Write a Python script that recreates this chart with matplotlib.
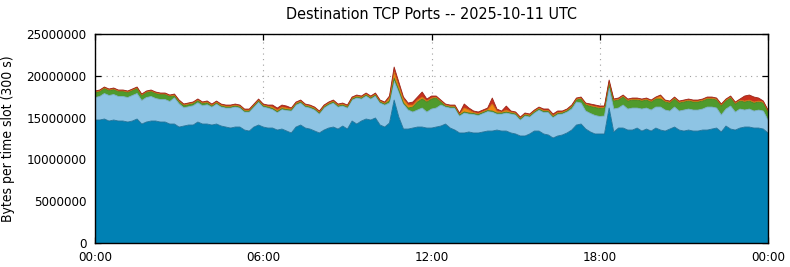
import numpy as np
import matplotlib
matplotlib.use("Agg")
import matplotlib.pyplot as plt

plt.rcParams['font.family'] = ['DejaVu Sans']
plt.rcParams['font.stretch'] = 'condensed'

# 10-minute samples, values in millions of bytes per 300 s slot
hours = np.arange(145) / 6.0

other_a = [14.71, 14.71, 14.83, 14.59, 14.71, 14.59, 14.59, 14.47, 14.59, 14.83,
           14.23, 14.47, 14.59, 14.59, 14.47, 14.47, 14.23, 14.23, 13.87, 13.99,
           14.11, 14.11, 14.47, 14.23, 14.23, 14.11, 14.23, 13.99, 13.87, 13.75,
           13.87, 13.87, 13.51, 13.39, 13.87, 14.11, 13.87, 13.75, 13.75, 13.51,
           13.63, 13.39, 13.16, 13.87, 14.11, 13.75, 13.63, 13.39, 13.16, 13.51,
           13.75, 13.87, 13.63, 13.99, 13.63, 14.59, 14.23, 14.59, 14.83, 14.71,
           14.95, 14.11, 13.87, 14.35, 17.10, 15.07, 13.63, 13.63, 13.75, 13.87,
           13.87, 13.75, 13.75, 13.87, 13.99, 14.23, 13.75, 13.51, 13.16, 13.16,
           13.28, 13.16, 13.16, 13.28, 13.39, 13.39, 13.51, 13.39, 13.39, 13.16,
           13.04, 12.80, 12.80, 13.04, 13.39, 13.39, 13.04, 12.92, 12.56, 12.80,
           12.92, 13.16, 13.51, 14.11, 14.23, 13.63, 13.28, 13.04, 13.04, 13.04,
           16.15, 13.28, 13.75, 13.75, 13.51, 13.51, 13.75, 13.39, 13.63, 13.39,
           13.75, 13.51, 13.39, 13.63, 13.87, 13.51, 13.39, 13.51, 13.39, 13.39,
           13.51, 13.51, 13.63, 13.75, 13.28, 13.99, 13.63, 13.51, 13.75, 13.87,
           13.87, 13.75, 13.75, 13.63, 13.16]

other_b = [2.69, 2.81, 3.05, 3.05, 3.05, 2.93, 2.93, 2.93, 3.05, 3.05,
           2.81, 2.93, 2.93, 2.69, 2.69, 2.69, 2.69, 3.13, 2.77, 2.18,
           2.18, 2.30, 2.30, 2.18, 2.30, 2.15, 2.39, 2.27, 2.27, 2.39,
           2.39, 2.27, 2.15, 2.27, 2.39, 2.75, 2.39, 2.39, 2.21, 2.09,
           2.33, 2.45, 2.63, 2.63, 2.63, 2.51, 2.51, 2.51, 2.27, 2.63,
           2.75, 2.87, 2.63, 2.39, 2.51, 2.51, 3.11, 2.63, 2.75, 2.51,
           2.63, 2.63, 2.63, 2.39, 2.27, 2.99, 2.99, 2.27, 1.91, 2.03,
           2.27, 1.91, 2.27, 2.27, 2.51, 2.03, 2.39, 2.63, 2.03, 2.39,
           2.15, 2.21, 2.09, 2.21, 2.33, 2.27, 1.91, 2.03, 2.15, 2.27,
           2.27, 1.91, 2.39, 2.03, 2.15, 2.51, 2.57, 2.69, 2.45, 2.57,
           2.51, 2.51, 2.51, 2.75, 2.51, 2.15, 2.21, 2.21, 2.09, 2.15,
           2.39, 2.75, 2.39, 2.75, 2.51, 2.63, 2.39, 2.63, 2.51, 2.51,
           2.51, 2.75, 2.51, 2.15, 2.39, 2.27, 2.51, 2.51, 2.51, 2.51,
           2.51, 2.75, 2.63, 2.39, 2.03, 2.03, 2.75, 2.15, 2.27, 2.03,
           2.15, 2.03, 2.15, 2.15, 1.55]

port_g = ([0.60] * 17 + [0.24] * 8 + [0.12] * 38 +
          [0.24, 0.36, 0.24, 0.12, 0.24, 0.60, 0.96, 1.08, 1.20, 1.20, 1.20, 0.36] +
          [0.12] * 27 +
          [0.24, 0.24, 0.48, 0.72, 0.84, 0.96, 0.96, 0.96, 0.48] +
          [0.96] * 23 + [1.08] + [0.96] * 10)

port_o = ([0.08] * 17 + [0.12] * 21 + [0.18] * 4 + [0.12] * 21 +
          [0.36, 0.72, 0.48, 0.48, 0.36, 0.24, 0.24, 0.24, 0.12, 0.12, 0.12, 0.12] +
          [0.12] * 4 + [0.48, 0.36] + [0.12] * 4 + [0.84, 0.24, 0.12, 0.24] + [0.12] * 13 +
          [0.12] * 8 + [0.24] +
          [0.12] * 10 + [0.36] + [0.12] * 23)

port_r = ([0.10] * 25 + [0.12] * 13 + [0.24] * 4 + [0.12] * 21 +
          [0.24, 0.60, 0.48, 0.24, 0.24, 0.36, 0.36, 0.60, 0.24, 0.24, 0.12, 0.12] +
          [0.12] * 4 + [0.48, 0.24] + [0.18] * 4 + [0.72, 0.24, 0.12, 0.48] +
          [0.12] * 7 + [0.18] * 4 + [0.12] * 2 +
          [0.12] * 4 + [0.18] * 3 + [0.12, 0.24] +
          [0.12] * 28 + [0.60] * 3 + [0.36, 0.12, 0.12])

layers = [other_a, other_b, port_g, port_o, port_r]
fills = ['#0081b4', '#8ec4e4', '#4f9a2c', '#f08a10', '#c8301e']
edges = ['#1d6f96', '#7aaec8', '#3f7f22', '#c87010', '#9c2418']

fig = plt.figure(figsize=(7.9, 2.67), dpi=100)
ax = fig.add_axes([0.1203, 0.0899, 0.8519, 0.7828])

base = np.zeros(len(hours))
for vals, fc, ec in zip(layers, fills, edges):
    top = base + np.array(vals) * 1e6
    ax.fill_between(hours, base, top, facecolor=fc, edgecolor='none', zorder=2)
    ax.plot(hours, top, color=ec, lw=0.6, zorder=3)
    base = top

ax.set_xlim(0, 24)
ax.set_ylim(0, 25000000)
ax.set_xticks([0, 6, 12, 18, 24])
ax.set_xticklabels(['00:00', '06:00', '12:00', '18:00', '00:00'])
yt = [0, 5000000, 10000000, 15000000, 20000000, 25000000]
ax.set_yticks(yt)
ax.set_yticklabels([str(v) for v in yt])

ax.grid(True, color='#a0a0a0', linestyle=(0, (1, 4)), lw=0.8, zorder=1)
ax.set_axisbelow(True)
ax.tick_params(direction='in', length=4.5, width=0.9, top=True, right=True,
               labelsize=9.5, pad=6)
for s in ax.spines.values():
    s.set_linewidth(1.0)
    s.set_zorder(5)

ax.set_ylabel('Bytes per time slot (300 s)', fontsize=10, labelpad=8)
ax.set_title('Destination TCP Ports -- 2025-10-11 UTC', fontsize=11.5, pad=11)

fig.savefig('out.png', dpi=100)
